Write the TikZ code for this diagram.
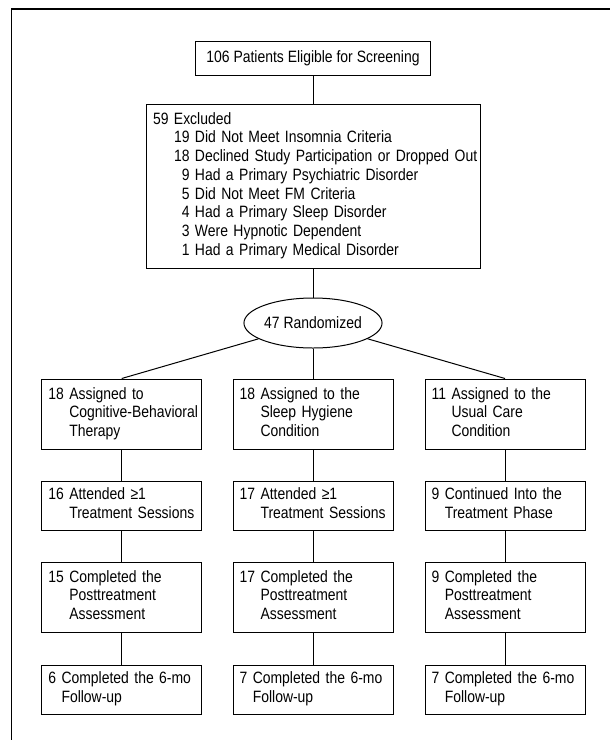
\documentclass[tikz,border=0pt]{standalone}
\usepackage{fontspec}
\setmainfont{Liberation Sans}[FakeStretch=0.85]
\usetikzlibrary{shapes.geometric}

\newcommand{\hangtext}[2]{\begin{tabular}{@{}l@{\ }l@{}}#1 & #2\end{tabular}}

\begin{document}
\begin{tikzpicture}[x=1pt,y=-1pt,line width=1pt,
    every node/.style={font=\fontsize{16.4}{18.7}\selectfont},
    box/.style={draw,rectangle,inner xsep=6.6pt,inner ysep=0pt,text width=146.8pt,align=left},
    tallbox/.style={box,minimum height=70pt},
    shortbox/.style={box,minimum height=49pt}]
    \useasboundingbox (0,0) rectangle (610,740);
    \draw[line width=1.2pt] (11.7,740) -- (11.7,9) -- (610,9);

    \node[draw,minimum width=235pt,minimum height=34pt,inner sep=0pt] at (313,58) (elig) {106 Patients Eligible for Screening};
    \node[draw,text width=320pt,inner xsep=7pt,inner ysep=0pt,minimum height=164pt,align=left] at (313,186) (excl) {%
        \begin{tabular}{@{\hspace{21pt}}r@{\ }l@{}}
            \multicolumn{2}{@{}l@{}}{59 Excluded}\\
            19 & Did Not Meet Insomnia Criteria\\
            18 & Declined Study Participation or Dropped Out\\
            9 & Had a Primary Psychiatric Disorder\\
            5 & Did Not Meet FM Criteria\\
            4 & Had a Primary Sleep Disorder\\
            3 & Were Hypnotic Dependent\\
            1 & Had a Primary Medical Disorder
        \end{tabular}};
    \node[draw,ellipse,minimum width=131pt,minimum height=50pt,inner sep=0pt] at (313,323) (rand) {47 Randomized};

    % cognitive-behavioral therapy
    \node[tallbox] at (121.7,414) (cbt) {\hangtext{18}{Assigned to\\ & Cognitive-Behavioral\\ & Therapy}};
    \node[shortbox] at (121.7,505.5) (cbts) {\hangtext{16}{Attended ≥1\\ & Treatment Sessions}};
    \node[tallbox] at (121.7,597) (cbtp) {\hangtext{15}{Completed the\\ & Posttreatment\\ & Assessment}};
    \node[shortbox] at (121.7,689.5) (cbtf) {\hangtext{6}{Completed the 6-mo\\ & Follow-up}};

    % sleep hygiene
    \node[tallbox] at (313,414) (shc) {\hangtext{18}{Assigned to the\\ & Sleep Hygiene\\ & Condition}};
    \node[shortbox] at (313,505.5) (shcs) {\hangtext{17}{Attended ≥1\\ & Treatment Sessions}};
    \node[tallbox] at (313,597) (shcp) {\hangtext{17}{Completed the\\ & Posttreatment\\ & Assessment}};
    \node[shortbox] at (313,689.5) (shcf) {\hangtext{7}{Completed the 6-mo\\ & Follow-up}};

    % usual care
    \node[tallbox] at (505,414) (ucc) {\hangtext{11}{Assigned to the\\ & Usual Care\\ & Condition}};
    \node[shortbox] at (505,505.5) (uccs) {\hangtext{9}{Continued Into the\\ & Treatment Phase}};
    \node[tallbox] at (505,597) (uccp) {\hangtext{9}{Completed the\\ & Posttreatment\\ & Assessment}};
    \node[shortbox] at (505,689.5) (uccf) {\hangtext{7}{Completed the 6-mo\\ & Follow-up}};

    \draw (elig) to (excl);
    \draw (excl) to (rand);
    \draw (rand) to (cbt.north);
    \draw (rand) to (shc.north);
    \draw (rand) to (ucc.north);
    \draw (cbt) to (cbts);
    \draw (cbts) to (cbtp);
    \draw (cbtp) to (cbtf);
    \draw (shc) to (shcs);
    \draw (shcs) to (shcp);
    \draw (shcp) to (shcf);
    \draw (ucc) to (uccs);
    \draw (uccs) to (uccp);
    \draw (uccp) to (uccf);
\end{tikzpicture}
\end{document}
